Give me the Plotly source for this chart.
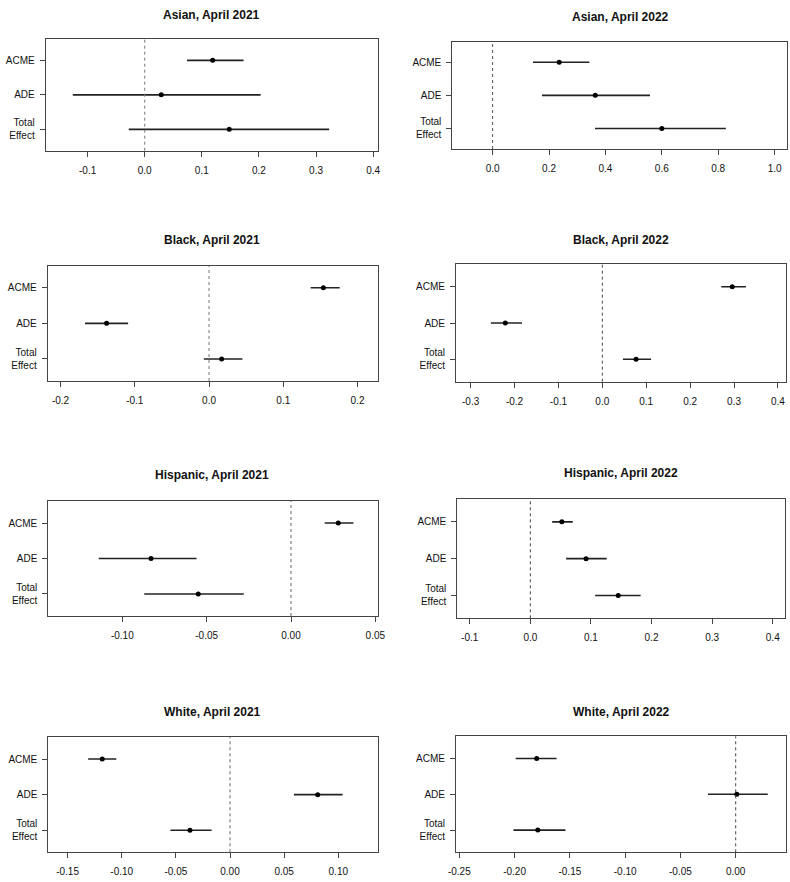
import plotly.graph_objects as go

# ---------------- data ----------------
effects = ["ACME", "ADE", "Total<br>Effect"]

titles = ["Asian, April 2021", "Asian, April 2022",
          "Black, April 2021", "Black, April 2022",
          "Hispanic, April 2021", "Hispanic, April 2022",
          "White, April 2021", "White, April 2022"]

# point estimates (ACME, ADE, Total Effect)
asian_2021_est = [0.119, 0.029, 0.148]
asian_2022_est = [0.236, 0.364, 0.600]
black_2021_est = [0.154, -0.138, 0.017]
black_2022_est = [0.296, -0.221, 0.077]
hisp_2021_est = [0.028, -0.083, -0.055]
hisp_2022_est = [0.052, 0.092, 0.145]
white_2021_est = [-0.118, 0.081, -0.037]
white_2022_est = [-0.180, 0.001, -0.179]

# lower CI bounds
asian_2021_lo = [0.074, -0.126, -0.028]
asian_2022_lo = [0.143, 0.175, 0.363]
black_2021_lo = [0.137, -0.167, -0.007]
black_2022_lo = [0.271, -0.254, 0.047]
hisp_2021_lo = [0.020, -0.114, -0.087]
hisp_2022_lo = [0.036, 0.059, 0.107]
white_2021_lo = [-0.131, 0.059, -0.055]
white_2022_lo = [-0.199, -0.025, -0.201]

# upper CI bounds
asian_2021_hi = [0.173, 0.203, 0.323]
asian_2022_hi = [0.343, 0.558, 0.827]
black_2021_hi = [0.176, -0.109, 0.045]
black_2022_hi = [0.327, -0.183, 0.111]
hisp_2021_hi = [0.037, -0.056, -0.028]
hisp_2022_hi = [0.070, 0.126, 0.182]
white_2021_hi = [-0.105, 0.104, -0.017]
white_2022_hi = [-0.162, 0.029, -0.154]

# x-axis tick labels per panel
ticks_asian_2021 = ["-0.1", "0.0", "0.1", "0.2", "0.3", "0.4"]
ticks_asian_2022 = ["0.0", "0.2", "0.4", "0.6", "0.8", "1.0"]
ticks_black_2021 = ["-0.2", "-0.1", "0.0", "0.1", "0.2"]
ticks_black_2022 = ["-0.3", "-0.2", "-0.1", "0.0", "0.1", "0.2", "0.3", "0.4"]
ticks_hisp_2021 = ["-0.10", "-0.05", "0.00", "0.05"]
ticks_hisp_2022 = ["-0.1", "0.0", "0.1", "0.2", "0.3", "0.4"]
ticks_white_2021 = ["-0.15", "-0.10", "-0.05", "0.00", "0.05", "0.10"]
ticks_white_2022 = ["-0.25", "-0.20", "-0.15", "-0.10", "-0.05", "0.00"]

# ---------------- layout geometry (pixels) ----------------
W, H = 790, 882
boxes = [  # (x0, x1, y0, y1) in pixels from top-left
    (45.7, 377.7, 39.0, 150.7),
    (452.3, 787.3, 41.7, 149.0),
    (47.7, 377.7, 265.7, 381.0),
    (456.0, 786.0, 264.3, 381.7),
    (48.3, 377.7, 501.0, 616.0),
    (457.3, 784.7, 499.0, 618.3),
    (48.3, 377.7, 737.0, 852.3),
    (456.0, 786.0, 736.3, 852.3),
]
xranges = [(-0.1734, 0.408), (-0.143, 1.045), (-0.2173, 0.2272), (-0.3333, 0.4184),
           (-0.1439, 0.0514), (-0.1205, 0.4197), (-0.1678, 0.1364), (-0.253, 0.0455)]
title_pos = [(211.7, 14.5), (620, 17.3), (212, 240), (621, 240),
             (212, 475), (621, 473), (212, 711.7), (621, 711.7)]
dash_colors = ["#777777", "#555555", "#777777", "#444444",
               "#666666", "#444444", "#666666", "#444444"]

ests = [asian_2021_est, asian_2022_est, black_2021_est, black_2022_est,
        hisp_2021_est, hisp_2022_est, white_2021_est, white_2022_est]
los = [asian_2021_lo, asian_2022_lo, black_2021_lo, black_2022_lo,
       hisp_2021_lo, hisp_2022_lo, white_2021_lo, white_2022_lo]
his = [asian_2021_hi, asian_2022_hi, black_2021_hi, black_2022_hi,
       hisp_2021_hi, hisp_2022_hi, white_2021_hi, white_2022_hi]
ticktexts = [ticks_asian_2021, ticks_asian_2022, ticks_black_2021, ticks_black_2022,
             ticks_hisp_2021, ticks_hisp_2022, ticks_white_2021, ticks_white_2022]

FONT = "Liberation Sans, Arial, sans-serif"
fig = go.Figure()
annotations = []
shapes = []

for i in range(8):
    n = i + 1
    xa = "x" if n == 1 else f"x{n}"
    ya = "y" if n == 1 else f"y{n}"
    est, lo, hi = ests[i], los[i], his[i]
    fig.add_trace(go.Scatter(
        x=est, y=effects, mode="markers",
        marker=dict(color="black", size=5),
        error_x=dict(type="data", symmetric=False,
                     array=[h - e for h, e in zip(hi, est)],
                     arrayminus=[e - l for e, l in zip(est, lo)],
                     color="#222222", thickness=1.6, width=0),
        xaxis=xa, yaxis=ya, showlegend=False, hoverinfo="x+y"))

    x0, x1, y0, y1 = boxes[i]
    tt = ticktexts[i]
    tv = [float(t) for t in tt]
    fig.layout[f"xaxis{'' if n == 1 else n}"] = dict(
        domain=[x0 / W, x1 / W], anchor=ya, range=list(xranges[i]),
        tickmode="array", tickvals=tv, ticktext=tt, automargin=False,
        showline=True, mirror=True, linecolor="#444444", linewidth=1,
        ticks="outside", ticklen=5, tickcolor="#444444", tickwidth=1,
        showgrid=False, zeroline=False, ticklabelstandoff=5,
        tickfont=dict(family=FONT, size=10, color="#111111"))
    fig.layout[f"yaxis{'' if n == 1 else n}"] = dict(
        domain=[1 - y1 / H, 1 - y0 / H], anchor=xa, automargin=False,
        type="category", categoryorder="array",
        categoryarray=list(reversed(effects)), range=[-0.62, 2.62],
        showline=True, mirror=True, linecolor="#444444", linewidth=1,
        ticks="outside", ticklen=5, tickcolor="#444444", tickwidth=1,
        showgrid=False, zeroline=False, ticklabelstandoff=3,
        tickfont=dict(family=FONT, size=10, color="#111111"))

    shapes.append(dict(type="line", xref=xa, yref=f"{ya} domain",
                       x0=0, x1=0, y0=0, y1=1,
                       line=dict(color=dash_colors[i], width=1, dash="3px,3px")))

    tx, ty = title_pos[i]
    annotations.append(dict(text=f"<b>{titles[i]}</b>", xref="paper", yref="paper",
                            x=tx / W, y=1 - ty / H, xanchor="center", yanchor="middle",
                            showarrow=False,
                            font=dict(family=FONT, size=12, color="#111111")))

fig.update_layout(width=W, height=H, margin=dict(l=0, r=0, t=0, b=0, autoexpand=False),
                  paper_bgcolor="white", plot_bgcolor="white",
                  annotations=annotations, shapes=shapes)

fig.write_html("out.html", config={"displayModeBar": False},
               post_script="document.body.style.margin='0px';document.body.style.overflow='hidden';")
